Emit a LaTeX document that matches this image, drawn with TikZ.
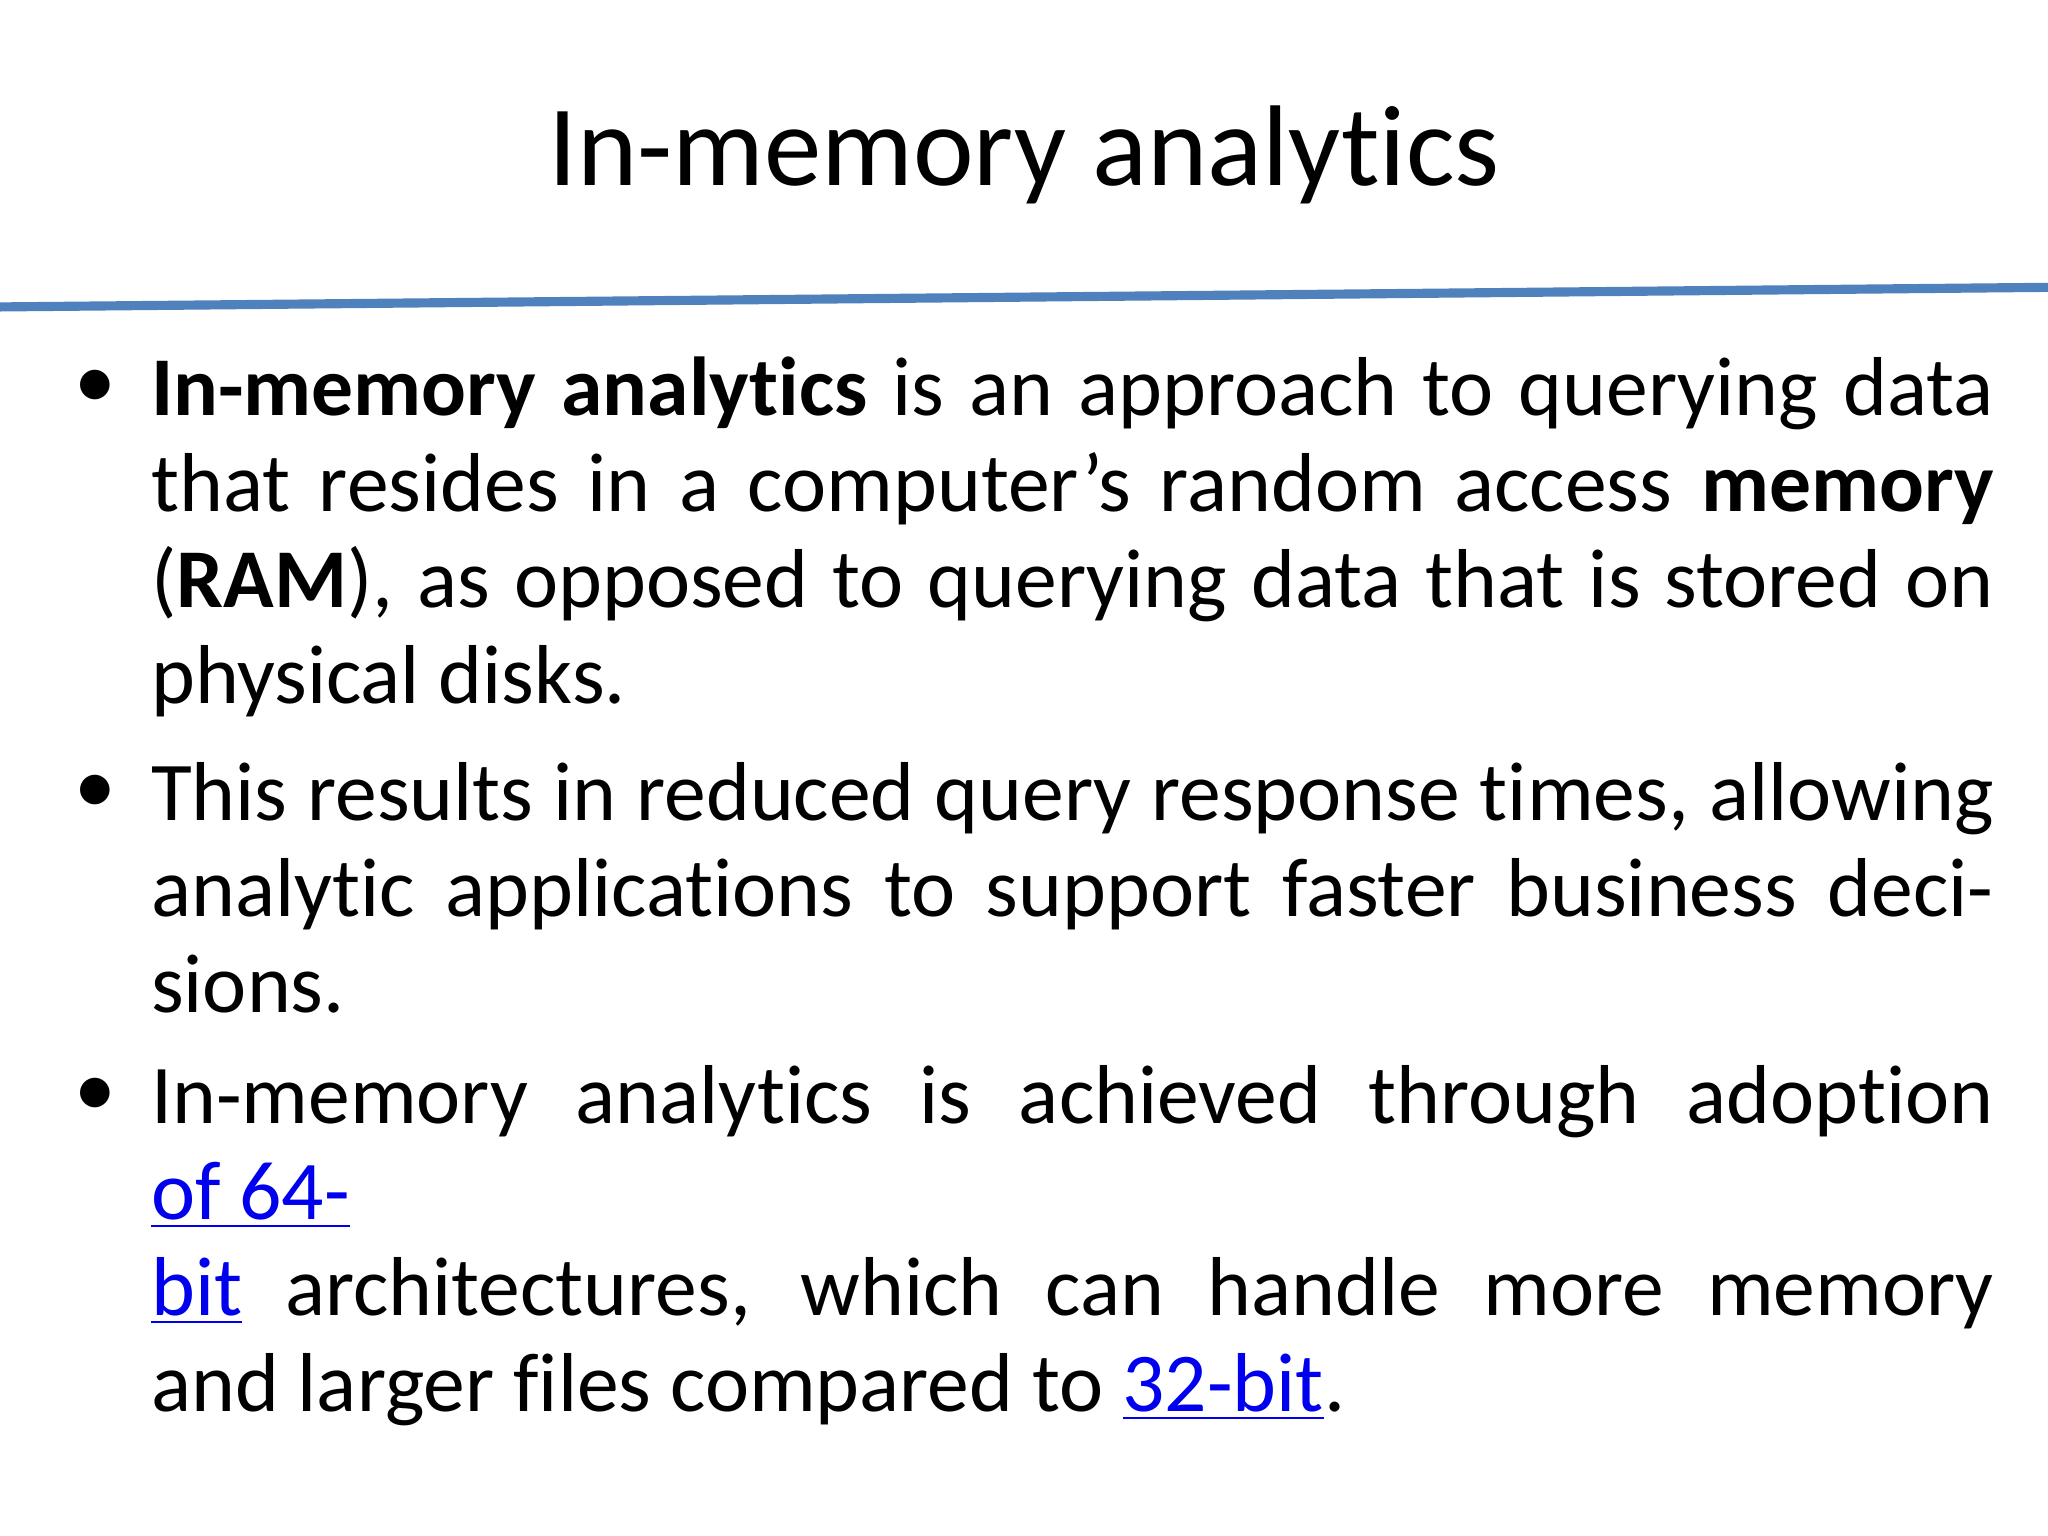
\documentclass[tikz,border=0pt]{standalone}
\usepackage{fontspec}
\setmainfont{Carlito}[Ligatures=NoCommon]
\definecolor{rule}{HTML}{4F81BD}
\definecolor{lnk}{HTML}{0000EE}
\newcommand{\lk}[1]{\textcolor{lnk}{\underline{#1}}}
\begin{document}
\begin{tikzpicture}[x=0.01cm,y=-0.01cm,
  body/.style={anchor=base west,inner sep=0pt,text width=14.1cm,align=justify,
    font=\fontsize{18.2}{20.9}\selectfont},
  bul/.style={anchor=base west,inner sep=0pt,font=\fontsize{18.2}{20.9}\selectfont}]
\useasboundingbox[fill=white] (0,0) rectangle (1568,1176);
\node[anchor=base,inner sep=0pt,font=\fontsize{25}{30}\selectfont] (title) at (784,142) {In-memory analytics};
\coordinate (l1) at (0,235);
\coordinate (l2) at (1568,220);
\draw[rule,line width=0.07cm] (l1) -- (l2);
\node[bul] (b1) at (56,313) {\textbullet};
\node[body] (p1) at (115,318) {\textbf{In-memory analytics} is an approach to querying data that resides in a computer\char"0027 s random access \textbf{memory} (\textbf{RAM}), as opposed to querying data that is stored on physical disks.};
\node[bul] (b2) at (56,623) {\textbullet};
\node[body] (p2) at (115,628) {This results in reduced query response times, allowing analytic applications to support faster business decisions.};
\node[bul] (b3) at (56,855) {\textbullet};
\node[body] (p3) at (115,860) {In-memory analytics is achieved through adoption \lk{of 64-}\linebreak\lk{bit} architectures, which can handle more memory and larger files compared to \lk{32-bit}.};
\end{tikzpicture}
\end{document}
